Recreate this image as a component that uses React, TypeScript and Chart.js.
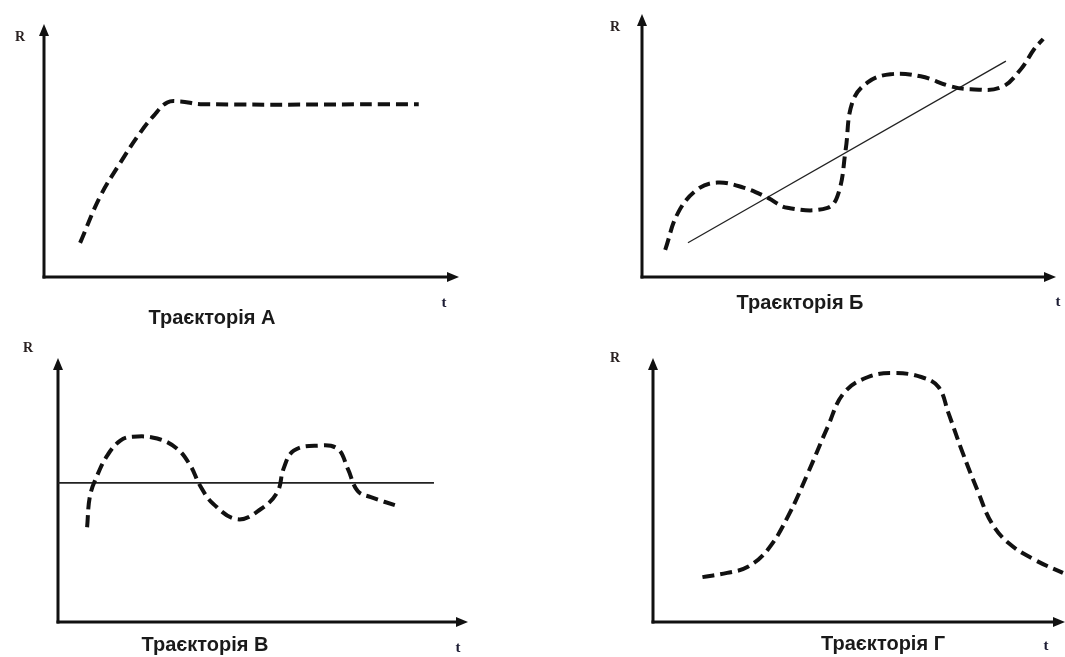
import React, { useEffect, useRef } from "react";
import { Chart, registerables } from "chart.js";

Chart.register(...registerables);

// ---- Data (t in 0..100 axis units, R in 0..100 axis units) ----
const titles = ["Траєкторія А", "Траєкторія Б", "Траєкторія В", "Траєкторія Г"];
const axisY = "R";
const axisX = "t";

// Trajectory A
const tA = [8.7, 13.5, 18.4, 23.2, 26.3, 29.7, 32.9, 37.7, 90.3];
const rA = [13.5, 31.7, 45.2, 57.1, 63.5, 69.0, 69.4, 68.3, 68.3];

// Trajectory Б
const tB = [5.6, 8.7, 13.3, 18.2, 24.5, 30.3, 35.1, 44.8, 47.5, 49.2, 50.8, 54.5, 60.0, 67.3, 74.6, 79.4, 86.7, 91.5, 94.7, 96.9];
const rB = [10.3, 24.4, 33.2, 35.9, 34.0, 30.2, 26.3, 26.3, 32.1, 48.5, 66.4, 74.0, 77.1, 76.3, 72.5, 71.4, 72.1, 79.0, 86.6, 90.5];
const trendBT = [11.1, 87.9];
const trendBR = [13.0, 82.1];

// Trajectory В
const tC = [7.1, 7.8, 9.5, 12.0, 15.2, 18.3, 24.2, 29.1, 32.3, 34.7, 37.9, 43.8, 49.4, 53.5, 55.0, 57.5, 63.3, 68.2, 70.7, 73.1, 76.3, 82.9];
const rC = [35.9, 47.7, 55.3, 63.0, 68.7, 70.2, 69.5, 65.6, 59.2, 51.5, 44.7, 38.9, 42.7, 49.2, 58.0, 64.9, 66.8, 65.6, 58.0, 49.6, 47.3, 43.9];
const levelCT = [0, 91.7];
const levelCR = [52.7, 52.7];

// Trajectory Г
const tD = [12.0, 18.0, 22.9, 27.8, 32.7, 37.6, 42.4, 46.3, 52.2, 58.5, 65.1, 69.3, 71.7, 74.9, 79.0, 82.2, 86.3, 92.7, 99.5];
const rD = [17.0, 18.6, 20.8, 27.3, 39.8, 56.4, 73.9, 86.7, 92.8, 94.3, 92.8, 89.0, 79.2, 65.2, 48.9, 37.5, 29.9, 23.5, 18.6];

const zip = (xs: number[], ys: number[]) => xs.map((x, i) => ({ x, y: ys[i] }));

// ---- Layout (page pixel coordinates) ----
const W = 1065;
const H = 657;

type Panel = {
  ox: number; oy: number; tipX: number; tipY: number;
  rPos: [number, number]; tPos: [number, number]; titlePos: [number, number];
  title: string;
  curve: { x: number; y: number }[];
  ref?: { x: number; y: number }[];
  refWidth?: number;
};

const panels: Panel[] = [
  { ox: 44, oy: 277, tipX: 459, tipY: 24, rPos: [20, 37], tPos: [444, 303], titlePos: [212, 318], title: titles[0], curve: zip(tA, rA) },
  { ox: 642, oy: 277, tipX: 1056, tipY: 14, rPos: [615, 27], tPos: [1058, 302], titlePos: [800, 303], title: titles[1], curve: zip(tB, rB), ref: zip(trendBT, trendBR), refWidth: 1.3 },
  { ox: 58, oy: 622, tipX: 468, tipY: 358, rPos: [28, 348], tPos: [458, 648], titlePos: [205, 645], title: titles[2], curve: zip(tC, rC), ref: zip(levelCT, levelCR), refWidth: 1.8 },
  { ox: 653, oy: 622, tipX: 1065, tipY: 358, rPos: [615, 358], tPos: [1046, 646], titlePos: [883, 644], title: titles[3], curve: zip(tD, rD) },
];

function makeDecor(p: Panel) {
  return {
    id: "decor",
    beforeDatasetsDraw(chart: any) {
      const ctx = chart.ctx as CanvasRenderingContext2D;
      const a = chart.chartArea;
      ctx.save();
      ctx.strokeStyle = "#111";
      ctx.fillStyle = "#111";
      ctx.lineWidth = 3;
      ctx.lineCap = "butt";
      // y axis
      ctx.beginPath();
      ctx.moveTo(a.left, a.bottom + 1.5);
      ctx.lineTo(a.left, a.top + 8);
      ctx.stroke();
      // x axis
      ctx.beginPath();
      ctx.moveTo(a.left - 1.5, a.bottom);
      ctx.lineTo(a.right - 8, a.bottom);
      ctx.stroke();
      // arrowheads
      ctx.beginPath();
      ctx.moveTo(a.left, a.top);
      ctx.lineTo(a.left - 5, a.top + 12);
      ctx.lineTo(a.left + 5, a.top + 12);
      ctx.closePath();
      ctx.fill();
      ctx.beginPath();
      ctx.moveTo(a.right, a.bottom);
      ctx.lineTo(a.right - 12, a.bottom - 5);
      ctx.lineTo(a.right - 12, a.bottom + 5);
      ctx.closePath();
      ctx.fill();
      // labels
      ctx.textAlign = "center";
      ctx.textBaseline = "middle";
      ctx.fillStyle = "#2a2222";
      ctx.font = "bold 14px 'Liberation Serif', serif";
      ctx.fillText(axisY, p.rPos[0], p.rPos[1]);
      ctx.fillStyle = "#1c1c33";
      ctx.font = "bold 15px 'Liberation Serif', serif";
      ctx.fillText(axisX, p.tPos[0], p.tPos[1]);
      ctx.fillStyle = "#1a1a1a";
      ctx.font = "bold 20px 'Liberation Sans', Arial, sans-serif";
      ctx.fillText(p.title, p.titlePos[0], p.titlePos[1]);
      ctx.restore();
    },
  };
}

function PanelChart({ p }: { p: Panel }) {
  const ref = useRef<HTMLCanvasElement>(null);
  useEffect(() => {
    if (!ref.current) return;
    const datasets: any[] = [
      {
        data: p.curve,
        borderColor: "#111",
        borderWidth: 4,
        borderDash: [12, 6],
        pointRadius: 0,
        tension: 0.4,
        fill: false,
        clip: 20,
      },
    ];
    if (p.ref) {
      datasets.push({
        data: p.ref,
        borderColor: "#222",
        borderWidth: p.refWidth,
        pointRadius: 0,
        tension: 0,
        fill: false,
        clip: 20,
      });
    }
    const chart = new Chart(ref.current, {
      type: "line",
      data: { datasets },
      options: {
        responsive: false,
        animation: false,
        events: [],
        layout: {
          padding: { left: p.ox, top: p.tipY, right: W - p.tipX, bottom: H - p.oy },
        },
        plugins: { legend: { display: false }, tooltip: { enabled: false }, title: { display: false } },
        scales: {
          x: { type: "linear", min: 0, max: 100, display: false },
          y: { type: "linear", min: 0, max: 100, display: false },
        },
      },
      plugins: [makeDecor(p)],
    });
    return () => chart.destroy();
  }, [p]);
  return (
    <canvas
      ref={ref}
      width={W}
      height={H}
      style={{ position: "absolute", left: 0, top: 0, width: W, height: H }}
    />
  );
}

export default function App() {
  return (
    <div style={{ position: "absolute", left: 0, top: 0, width: W, height: H, background: "#fff" }}>
      {panels.map((p, i) => (
        <PanelChart key={i} p={p} />
      ))}
    </div>
  );
}
